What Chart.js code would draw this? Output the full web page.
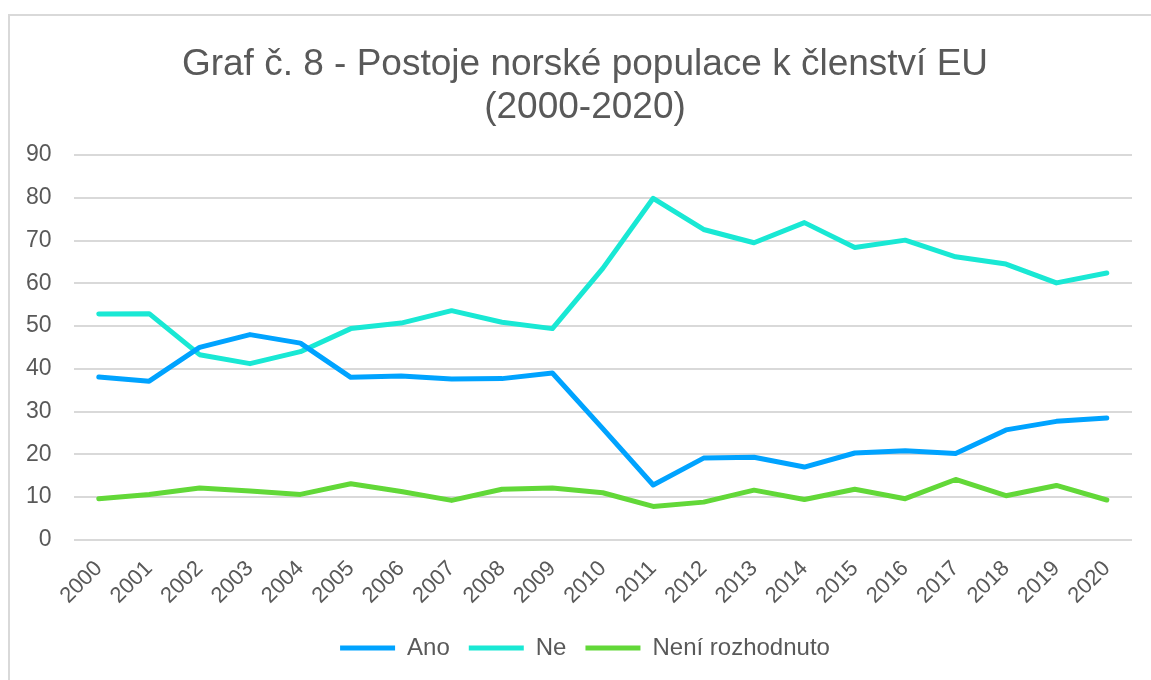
<!DOCTYPE html>
<html lang="cs">
<head>
<meta charset="utf-8">
<title>Graf č. 8</title>
<script src="https://cdn.jsdelivr.net/npm/chart.js@4.4.1/dist/chart.umd.min.js"></script>
<style>
    html, body { margin: 0; padding: 0; background: #ffffff; }
    #frame {
        position: absolute; left: 8px; top: 14px;
        width: 1200px; height: 720px;
        border: 2px solid #d9d9d9;
    }
    #chart { position: absolute; left: 0; top: 0; }
</style>
</head>
<body>
<div id="frame"></div>
<canvas id="chart" width="1151" height="680"></canvas>
<script>
// Data (percent)
const years = ['2000', '2001', '2002', '2003', '2004', '2005', '2006', '2007', '2008', '2009', '2010',
    '2011', '2012', '2013', '2014', '2015', '2016', '2017', '2018', '2019', '2020'];
const ano = [38.1, 37.1, 45.0, 48.0, 46.0, 38.0, 38.3, 37.6, 37.7, 39.0, 26.0,
    12.8, 19.1, 19.3, 17.0, 20.3, 20.8, 20.2, 25.7, 27.7, 28.5];
const ne = [52.8, 52.9, 43.3, 41.2, 44.0, 49.4, 50.7, 53.6, 50.9, 49.4, 63.5,
    79.9, 72.6, 69.5, 74.2, 68.4, 70.1, 66.2, 64.5, 60.1, 62.4];
const neniRozhodnuto = [9.6, 10.6, 12.1, 11.4, 10.6, 13.1, 11.3, 9.2, 11.8, 12.1, 11.0,
    7.8, 8.8, 11.6, 9.4, 11.8, 9.6, 14.1, 10.3, 12.7, 9.3];
const yTicks = [0, 10, 20, 30, 40, 50, 60, 70, 80, 90];

const textColor = '#595959';
const gridColor = '#d9d9d9';
const fontFamily = '"Liberation Sans", Arial, sans-serif';

const lineSet = (label, data, color) => ({
    label: label,
    data: data,
    borderColor: color,
    backgroundColor: color,
    borderWidth: 5,
    borderCapStyle: 'round',
    borderJoinStyle: 'round',
    pointRadius: 0,
    pointHoverRadius: 0,
    tension: 0,
    fill: false
});

new Chart(document.getElementById('chart').getContext('2d'), {
    type: 'line',
    data: {
        labels: years,
        datasets: [
            lineSet('Ano', ano, '#00a3ff'),
            lineSet('Ne', ne, '#19e8d4'),
            lineSet('Není rozhodnuto', neniRozhodnuto, '#62d838')
        ]
    },
    options: {
        responsive: false,
        animation: false,
        // y tick padding is counted twice in the axis width, hence the small left padding;
        // negative right padding moves title + legend centre right, x axis keeps the plot edge
        layout: { padding: { left: 4, right: -15, top: 0, bottom: 10 } },
        plugins: {
            title: {
                display: true,
                text: ['Graf č. 8 - Postoje norské populace k členství EU', '(2000-2020)'],
                color: textColor,
                font: { family: fontFamily, size: 37, weight: 'normal', lineHeight: 1.15 },
                padding: { top: 44, bottom: 26 }
            },
            legend: {
                position: 'bottom',
                labels: {
                    color: textColor,
                    font: { family: fontFamily, size: 24 },
                    usePointStyle: true,
                    pointStyle: 'line',
                    pointStyleWidth: 55,
                    padding: 19
                }
            },
            tooltip: { enabled: false }
        },
        scales: {
            x: {
                offset: true,
                grid: { display: false },
                border: { display: false },
                afterFit: (axis) => {
                    axis.paddingLeft = 0;
                    axis.paddingRight = 19;
                },
                ticks: {
                    color: textColor,
                    font: { family: fontFamily, size: 22 },
                    minRotation: 45,
                    maxRotation: 45,
                    autoSkip: false,
                    padding: 8
                }
            },
            y: {
                min: 0,
                max: 90,
                afterBuildTicks: (axis) => { axis.ticks = yTicks.map(v => ({ value: v })); },
                grid: { color: gridColor, lineWidth: 2, drawTicks: false },
                border: { display: false },
                ticks: {
                    color: textColor,
                    font: { family: fontFamily, size: 23 },
                    padding: 22
                }
            }
        }
    }
});
</script>
</body>
</html>
